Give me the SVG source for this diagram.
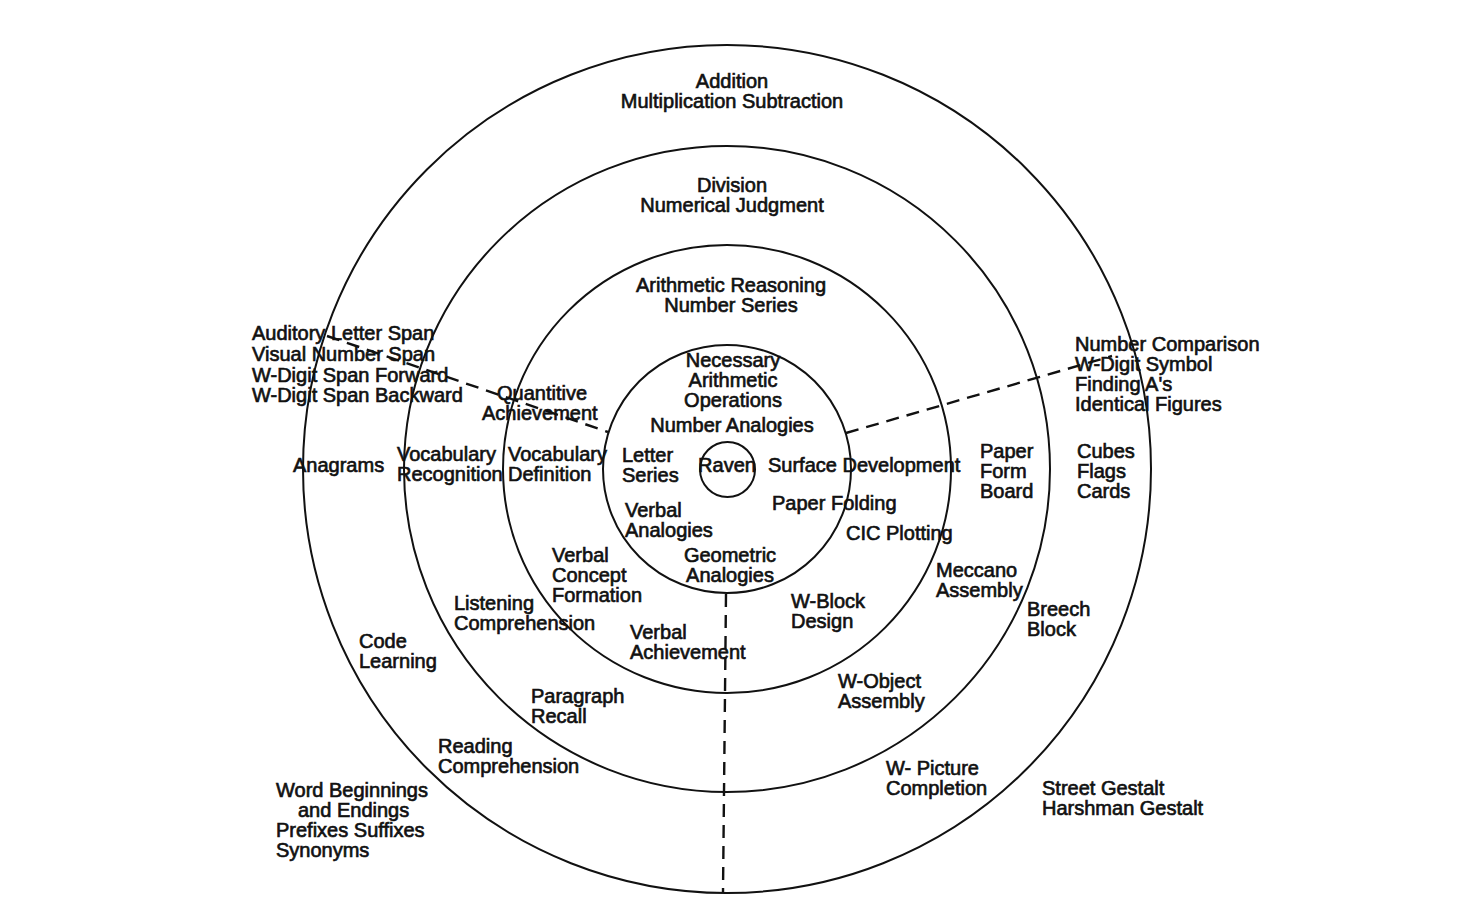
<svg xmlns="http://www.w3.org/2000/svg" width="1480" height="908" viewBox="0 0 1480 908">
<style>
text{font-family:"Liberation Sans",Arial,sans-serif;font-size:20px;fill:#111;stroke:#111;stroke-width:0.65px;}
.c{text-anchor:middle;}
.ring{fill:none;stroke:#111;stroke-width:2;}
.dash{fill:none;stroke:#111;stroke-width:2.4;stroke-dasharray:13 8;}
</style>
<rect width="1480" height="908" fill="#fff"/>
<g id="rings">
<circle class="ring" cx="727" cy="469" r="424"/>
<circle class="ring" cx="727" cy="469" r="323"/>
<circle class="ring" cx="727" cy="469" r="224"/>
<circle class="ring" cx="727" cy="469" r="124"/>
<circle class="ring" cx="727.5" cy="469.5" r="27.5"/>
</g>
<g id="connectors">
<line class="dash" x1="327" y1="336" x2="608" y2="432"/>
<line class="dash" x1="846" y1="433" x2="1112" y2="356"/>
<line class="dash" x1="726" y1="594" x2="723" y2="892"/>
</g>
<g id="addition"><text class="c" x="732" y="88">Addition</text><text class="c" x="732" y="108">Multiplication Subtraction</text></g>
<g id="division"><text class="c" x="732" y="192">Division</text><text class="c" x="732" y="212">Numerical Judgment</text></g>
<g id="arith-reasoning"><text class="c" x="731" y="292">Arithmetic Reasoning</text><text class="c" x="731" y="312">Number Series</text></g>
<g id="necessary"><text class="c" x="733" y="367">Necessary</text><text class="c" x="733" y="387">Arithmetic</text><text class="c" x="733" y="407">Operations</text></g>
<g id="number-analogies"><text class="c" x="732" y="432">Number Analogies</text></g>
<g id="raven"><text class="c" x="727" y="472">Raven</text></g>
<g id="surface"><text x="768" y="472">Surface Development</text></g>
<g id="paper-folding"><text x="772" y="510">Paper Folding</text></g>
<g id="cic"><text x="846" y="540">CIC Plotting</text></g>
<g id="letter-series"><text x="622" y="462">Letter</text><text x="622" y="482">Series</text></g>
<g id="verbal-analogies"><text x="625" y="517">Verbal</text><text x="625" y="537">Analogies</text></g>
<g id="geometric"><text class="c" x="730" y="562">Geometric</text><text class="c" x="730" y="582">Analogies</text></g>
<g id="spans"><text x="252" y="340">Auditory Letter Span</text><text x="252" y="361">Visual Number Span</text><text x="252" y="382">W-Digit Span Forward</text><text x="252" y="402">W-Digit Span Backward</text></g>
<g id="quantitive"><text x="497" y="400">Quantitive</text><text x="482" y="420">Achievement</text></g>
<g id="anagrams"><text x="293" y="472">Anagrams</text></g>
<g id="vocab-recognition"><text x="397" y="461">Vocabulary</text><text x="397" y="481">Recognition</text></g>
<g id="vocab-definition"><text x="508" y="461">Vocabulary</text><text x="508" y="481">Definition</text></g>
<g id="number-comparison"><text x="1075" y="351">Number Comparison</text><text x="1075" y="371">W-Digit Symbol</text><text x="1075" y="391">Finding A's</text><text x="1075" y="411">Identical Figures</text></g>
<g id="paper-form-board"><text x="980" y="458">Paper</text><text x="980" y="478">Form</text><text x="980" y="498">Board</text></g>
<g id="cubes"><text x="1077" y="458">Cubes</text><text x="1077" y="478">Flags</text><text x="1077" y="498">Cards</text></g>
<g id="verbal-concept"><text x="552" y="562">Verbal</text><text x="552" y="582">Concept</text><text x="552" y="602">Formation</text></g>
<g id="listening"><text x="454" y="610">Listening</text><text x="454" y="630">Comprehension</text></g>
<g id="code-learning"><text x="359" y="648">Code</text><text x="359" y="668">Learning</text></g>
<g id="verbal-achievement"><text x="630" y="639">Verbal</text><text x="630" y="659">Achievement</text></g>
<g id="paragraph"><text x="531" y="703">Paragraph</text><text x="531" y="723">Recall</text></g>
<g id="reading"><text x="438" y="753">Reading</text><text x="438" y="773">Comprehension</text></g>
<g id="word-beginnings"><text x="276" y="797">Word Beginnings</text><text x="298" y="817">and Endings</text><text x="276" y="837">Prefixes Suffixes</text><text x="276" y="857">Synonyms</text></g>
<g id="meccano"><text x="936" y="577">Meccano</text><text x="936" y="597">Assembly</text></g>
<g id="w-block"><text x="791" y="608">W-Block</text><text x="791" y="628">Design</text></g>
<g id="breech"><text x="1027" y="616">Breech</text><text x="1027" y="636">Block</text></g>
<g id="w-object"><text x="838" y="688">W-Object</text><text x="838" y="708">Assembly</text></g>
<g id="w-picture"><text x="886" y="775">W- Picture</text><text x="886" y="795">Completion</text></g>
<g id="gestalt"><text x="1042" y="795">Street Gestalt</text><text x="1042" y="815">Harshman Gestalt</text></g>
</svg>
